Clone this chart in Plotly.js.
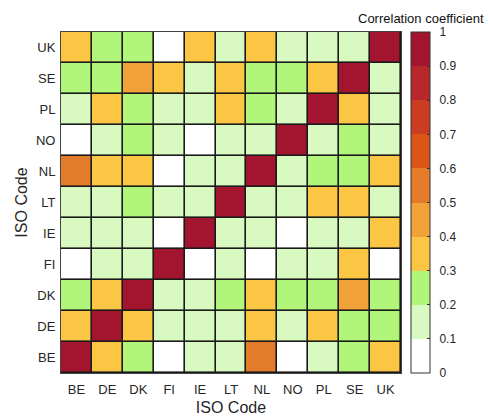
<!DOCTYPE html>
<html><head><meta charset="utf-8">
<script src="https://cdn.plot.ly/plotly-3.0.1.min.js"></script>
<style>html,body{margin:0;padding:0;background:#fff;}#chart{width:489px;height:417px;}</style>
</head><body><div id="chart"></div>
<script>
const codes = ["BE","DE","DK","FI","IE","LT","NL","NO","PL","SE","UK"];
const rowBE = [1.00,0.35,0.25,0.05,0.15,0.15,0.55,0.05,0.15,0.25,0.35];
const rowDE = [0.35,1.00,0.35,0.15,0.15,0.15,0.35,0.15,0.35,0.25,0.25];
const rowDK = [0.25,0.35,1.00,0.15,0.15,0.25,0.35,0.25,0.25,0.45,0.25];
const rowFI = [0.05,0.15,0.15,1.00,0.05,0.15,0.05,0.15,0.15,0.35,0.05];
const rowIE = [0.15,0.15,0.15,0.05,1.00,0.15,0.15,0.05,0.15,0.15,0.35];
const rowLT = [0.15,0.15,0.25,0.15,0.15,1.00,0.15,0.15,0.35,0.35,0.15];
const rowNL = [0.55,0.35,0.35,0.05,0.15,0.15,1.00,0.15,0.25,0.25,0.35];
const rowNO = [0.05,0.15,0.25,0.15,0.05,0.15,0.15,1.00,0.15,0.25,0.15];
const rowPL = [0.15,0.35,0.25,0.15,0.15,0.35,0.25,0.15,1.00,0.35,0.15];
const rowSE = [0.25,0.25,0.45,0.35,0.15,0.35,0.25,0.25,0.35,1.00,0.15];
const rowUK = [0.35,0.25,0.25,0.05,0.35,0.15,0.35,0.15,0.15,0.15,1.00];
const zRows = [rowBE,rowDE,rowDK,rowFI,rowIE,rowLT,rowNL,rowNO,rowPL,rowSE,rowUK];
const tickVals = [0,0.1,0.2,0.3,0.4,0.5,0.6,0.7,0.8,0.9,1];
const tickText = ["0","0.1","0.2","0.3","0.4","0.5","0.6","0.7","0.8","0.9","1"];
const classColors = ["#FFFFFF","#D8F9BF","#B1F57A","#FCC645","#F0A238","#E47B2A","#DB5517","#CB3D22","#B8272A","#A3152F"];

const colorscale = [];
classColors.forEach((c,i)=>{ colorscale.push([i/10,c]); colorscale.push([(i+1)/10,c]); });

const font = "Liberation Sans, Arial, sans-serif";
const trace = {
  type:"heatmap", x:codes, y:codes, z:zRows,
  zmin:0, zmax:1, colorscale:colorscale, xgap:1.6, ygap:1.6,
  hoverongaps:false,
  colorbar:{
    thickness:19, thicknessmode:"pixels", len:341, lenmode:"pixels",
    x:1.0294, xanchor:"left", xpad:0, xref:"paper", y:1, yanchor:"top", ypad:0,
    outlinecolor:"#333", outlinewidth:1,
    tickvals:tickVals, ticktext:tickText.map(t=>"\u2002"+t), ticks:"inside", ticklen:3, tickcolor:"#333",
    tickfont:{family:font,size:12,color:"#262626"}
  }
};
const layout = {
  width:489, height:417,
  margin:{l:61,r:88,t:32,b:44,pad:0,autoexpand:false},
  paper_bgcolor:"#fff", plot_bgcolor:"#1a1a1a",
  font:{family:font,color:"#262626"},
  xaxis:{type:"category", automargin:false, showgrid:false, zeroline:false, ticks:"", showline:true, linecolor:"#444", linewidth:1, mirror:true,
    ticklabelstandoff:4,
    tickfont:{family:font,size:13,color:"#262626"},
    title:{text:"ISO Code", font:{family:font,size:16,color:"#262626"}, standoff:6}},
  yaxis:{type:"category", automargin:false, showgrid:false, zeroline:false, ticks:"", showline:true, linecolor:"#444", linewidth:1, mirror:true,
    ticklabelstandoff:2,
    tickfont:{family:font,size:13,color:"#262626"},
    title:{text:"ISO Code", font:{family:font,size:16,color:"#262626"}, standoff:4}},
  annotations:[{text:"Correlation coefficient", xref:"paper", yref:"paper", x:1.06, y:1.012, xanchor:"center", yanchor:"bottom",
    showarrow:false, font:{family:font,size:13,color:"#111"}}]
};
Plotly.newPlot("chart",[trace],layout,{displayModeBar:false,staticPlot:true});
</script></body></html>
